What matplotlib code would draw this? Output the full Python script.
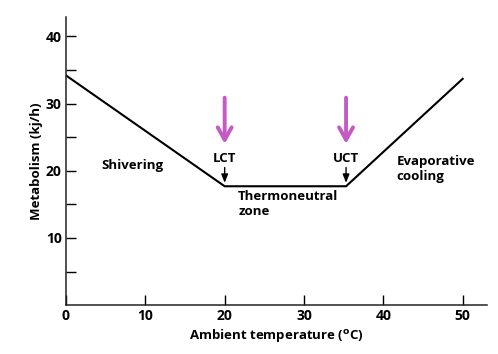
import matplotlib.pyplot as plt

plt.rcParams['font.family'] = ['Open Sans', 'DejaVu Sans']
plt.rcParams['font.weight'] = 'bold'

# curve of metabolism vs ambient temperature
temp = [0, 20, 35.3, 50]
metab = [34.2, 17.7, 17.7, 33.7]

xticks = [0, 10, 20, 30, 40, 50]
yticks = [10, 20, 30, 40]
yminor = [5, 15, 25, 35]

lct, uct = 20, 35.3
labels = ['LCT', 'UCT']

fig = plt.figure(figsize=(4.98, 3.54), dpi=100)
ax = fig.add_axes([0.1325, 0.138, 0.846, 0.814])

ax.plot(temp, metab, color='black', lw=1.5, solid_joinstyle='miter')

ax.set_xlim(0, 53.1)
ax.set_ylim(0, 42.9)
ax.set_xticks(xticks)
ax.set_yticks(yticks)
ax.set_yticks(yminor, minor=True)
ax.tick_params(direction='in', length=7, width=1, labelsize=10, pad=3)
ax.tick_params(axis='y', which='minor', direction='in', length=7, width=1)
for lab in ax.get_xticklabels() + ax.get_yticklabels():
    lab.set_fontweight('bold')

for s in ['top', 'right']:
    ax.spines[s].set_visible(False)
for s in ['left', 'bottom']:
    ax.spines[s].set_linewidth(1.1)
    ax.spines[s].set_color('#222222')

ax.set_xlabel(r'Ambient temperature ($^{\mathrm{o}}$C)', fontsize=9.5, fontweight='bold', labelpad=3)
ax.set_ylabel('Metabolism (kj/h)', fontsize=9.5, fontweight='bold', labelpad=2)

for xc, lab in zip([lct, uct], labels):
    ax.annotate('', xy=(xc, 23.6), xytext=(xc, 31.3),
                arrowprops=dict(arrowstyle='->,head_length=0.9,head_width=0.5',
                                color='#c45ac4', lw=2.8))
    ax.text(xc, 21.9, lab, ha='center', va='center', fontsize=9.5, fontweight='bold')
    ax.annotate('', xy=(xc, 17.8), xytext=(xc, 20.9),
                arrowprops=dict(arrowstyle='-|>,head_length=0.5,head_width=0.2',
                                color='black', lw=1))

ax.text(4.5, 20.8, 'Shivering', ha='left', va='center', fontsize=9.5, fontweight='bold')
ax.text(21.7, 15.1, 'Thermoneutral\nzone', ha='left', va='center', fontsize=9.5,
        fontweight='bold', linespacing=1.2)
ax.text(41.7, 20.3, 'Evaporative\ncooling', ha='left', va='center', fontsize=9.5,
        fontweight='bold', linespacing=1.2)

fig.savefig('out.png', dpi=100)
